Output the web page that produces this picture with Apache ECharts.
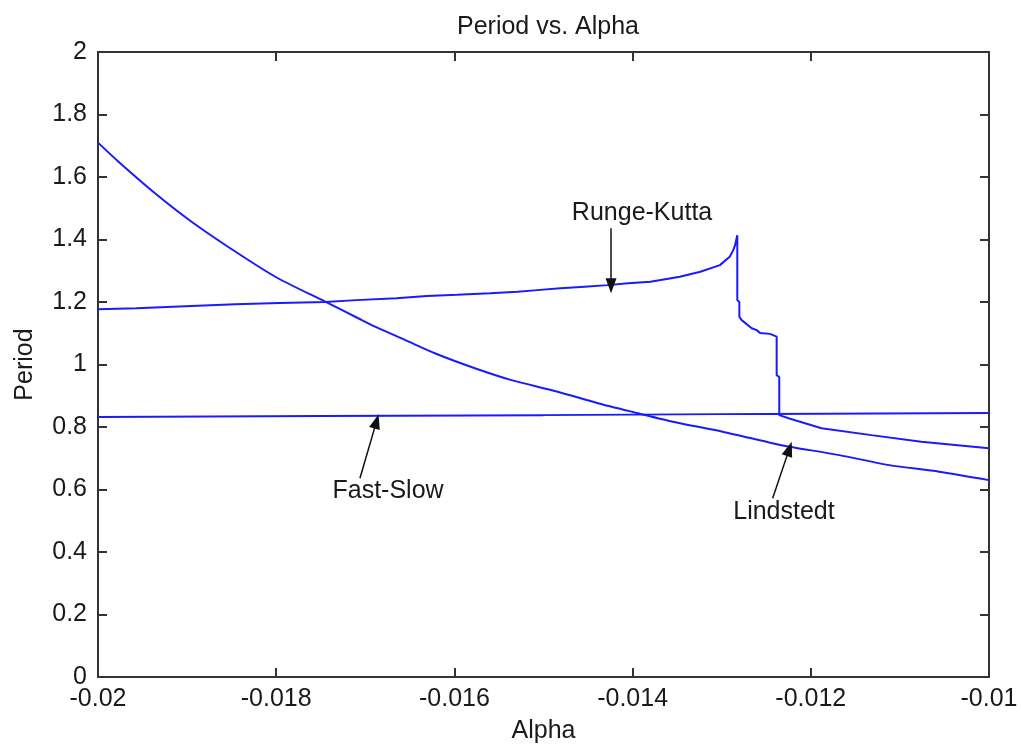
<!DOCTYPE html>
<html>
<head>
<meta charset="utf-8">
<title>Period vs. Alpha</title>
<script src="https://cdn.jsdelivr.net/npm/echarts@6/dist/echarts.min.js"></script>
<style>
  html, body { margin: 0; padding: 0; background: #fff; }
  #chart { width: 1021px; height: 750px; }
</style>
</head>
<body>
<div id="chart"></div>
<script>
// Period of oscillation as a function of alpha, three methods.
const rungeKutta = [
  [-0.02000, 1.177], [-0.01957, 1.180], [-0.01895, 1.187], [-0.01846, 1.193],
  [-0.01796, 1.197], [-0.01745, 1.200], [-0.01710, 1.206], [-0.01665, 1.212],
  [-0.01631, 1.219], [-0.01597, 1.223], [-0.01560, 1.228], [-0.01529, 1.233],
  [-0.01507, 1.238], [-0.01481, 1.244], [-0.01454, 1.249], [-0.01428, 1.254],
  [-0.01405, 1.260], [-0.01380, 1.265], [-0.01347, 1.281], [-0.01324, 1.297],
  [-0.01302, 1.318], [-0.01291, 1.345], [-0.01287, 1.366], [-0.01285, 1.382],
  [-0.012825, 1.414], [-0.012825, 1.206], [-0.012802, 1.200], [-0.012802, 1.153],
  [-0.012776, 1.142], [-0.012663, 1.116], [-0.012607, 1.110], [-0.012570, 1.101],
  [-0.012458, 1.098], [-0.012383, 1.089], [-0.012383, 0.966], [-0.012354, 0.960],
  [-0.012354, 0.838], [-0.01225, 0.828], [-0.01188, 0.796], [-0.01132, 0.774],
  [-0.01076, 0.753], [-0.01000, 0.732]
];

const lindstedt = [
  [-0.02000, 1.710], [-0.01977, 1.649], [-0.01936, 1.548], [-0.01895, 1.457],
  [-0.01843, 1.356], [-0.01798, 1.276], [-0.01745, 1.201], [-0.01708, 1.148],
  [-0.01689, 1.121], [-0.01655, 1.078], [-0.01622, 1.036], [-0.01577, 0.988],
  [-0.01536, 0.950], [-0.01484, 0.913], [-0.01439, 0.876], [-0.01394, 0.844],
  [-0.01355, 0.817], [-0.01299, 0.785], [-0.01243, 0.748], [-0.01224, 0.737],
  [-0.01168, 0.710], [-0.01112, 0.678], [-0.01056, 0.657], [-0.01000, 0.630]
];

const fastSlow = [
  [-0.0200, 0.832], [-0.0175, 0.835], [-0.0150, 0.838], [-0.0125, 0.842], [-0.0100, 0.845]
];

// Annotation text: [x, y, text]
const noteLabels = [
  [-0.013894, 1.484, 'Runge-Kutta'],
  [-0.016745, 0.596, 'Fast-Slow'],
  [-0.012301, 0.529, 'Lindstedt']
];
// Annotation arrows: [tailX, tailY, headX, headY]
const noteArrows = [
  [-0.014242, 1.436, -0.014242, 1.252],
  [-0.017060, 0.636, -0.016874, 0.818],
  [-0.012428, 0.572, -0.012241, 0.730]
];

const xTicks = { min: -0.02, max: -0.01, step: 0.002 };
const yTicks = { min: 0, max: 2, step: 0.2 };

const FONT = '"Liberation Sans", Arial, Helvetica, sans-serif';
const TEXT = '#1a1a1a';
const AXIS = '#333';
const LINE = '#1a1aff';

const fmt = d => v => String(parseFloat(v.toFixed(d)));

const baseAxis = {
  type: 'value',
  splitLine: { show: false },
  axisLine: { show: true, onZero: false, lineStyle: { color: AXIS, width: 2 } },
  axisTick: { show: true, inside: true, length: 9, lineStyle: { color: AXIS, width: 2 } },
  axisLabel: { color: TEXT, fontFamily: FONT, fontSize: 25 }
};

const chart = echarts.init(document.getElementById('chart'), null, { renderer: 'canvas' });

chart.setOption({
  animation: false,
  backgroundColor: '#fff',
  title: {
    text: 'Period vs. Alpha',
    left: 543,
    top: 10,
    textAlign: 'center',
    textStyle: { color: TEXT, fontFamily: FONT, fontSize: 25, fontWeight: 'normal' }
  },
  grid: { left: 98, right: 32, top: 52, bottom: 73, containLabel: false },
  xAxis: [
    Object.assign({}, baseAxis, {
      position: 'bottom',
      min: xTicks.min, max: xTicks.max, interval: xTicks.step,
      name: 'Alpha', nameLocation: 'middle', nameGap: 42,
      nameTextStyle: { color: TEXT, fontFamily: FONT, fontSize: 25 },
      axisLabel: Object.assign({}, baseAxis.axisLabel, { margin: 10, formatter: fmt(3) })
    }),
    Object.assign({}, baseAxis, {
      position: 'top',
      min: xTicks.min, max: xTicks.max, interval: xTicks.step,
      axisLabel: { show: false }
    })
  ],
  yAxis: [
    Object.assign({}, baseAxis, {
      position: 'left',
      min: yTicks.min, max: yTicks.max, interval: yTicks.step,
      name: 'Period', nameLocation: 'middle', nameGap: 60, nameRotate: 90,
      nameTextStyle: { color: TEXT, fontFamily: FONT, fontSize: 25 },
      axisLabel: Object.assign({}, baseAxis.axisLabel, { margin: 11, formatter: fmt(1) })
    }),
    Object.assign({}, baseAxis, {
      position: 'right',
      min: yTicks.min, max: yTicks.max, interval: yTicks.step,
      axisLabel: { show: false }
    })
  ],
  series: [
    {
      name: 'Runge-Kutta', type: 'line', data: rungeKutta, showSymbol: false,
      lineStyle: { color: LINE, width: 2 }
    },
    {
      name: 'Lindstedt', type: 'line', data: lindstedt, showSymbol: false,
      smooth: 0.25,
      lineStyle: { color: LINE, width: 2 }
    },
    {
      name: 'Fast-Slow', type: 'line', data: fastSlow, showSymbol: false,
      lineStyle: { color: LINE, width: 2 }
    },
    {
      name: 'notes', type: 'scatter', symbolSize: 1,
      itemStyle: { color: 'rgba(0,0,0,0)', opacity: 1 },
      data: noteLabels.map(n => ({ value: [n[0], n[1]], name: n[2] })),
      label: {
        show: true, position: 'inside', formatter: p => p.name,
        color: TEXT, opacity: 1, fontFamily: FONT, fontSize: 25,
        textBorderWidth: 0
      },
      markLine: {
        silent: true,
        symbol: ['none', 'triangle'],
        symbolSize: [11, 15],
        label: { show: false },
        lineStyle: { color: '#111', width: 1.5, type: 'solid', opacity: 1 },
        data: noteArrows.map(a => [{ coord: [a[0], a[1]] }, { coord: [a[2], a[3]] }])
      }
    }
  ]
});
</script>
</body>
</html>
